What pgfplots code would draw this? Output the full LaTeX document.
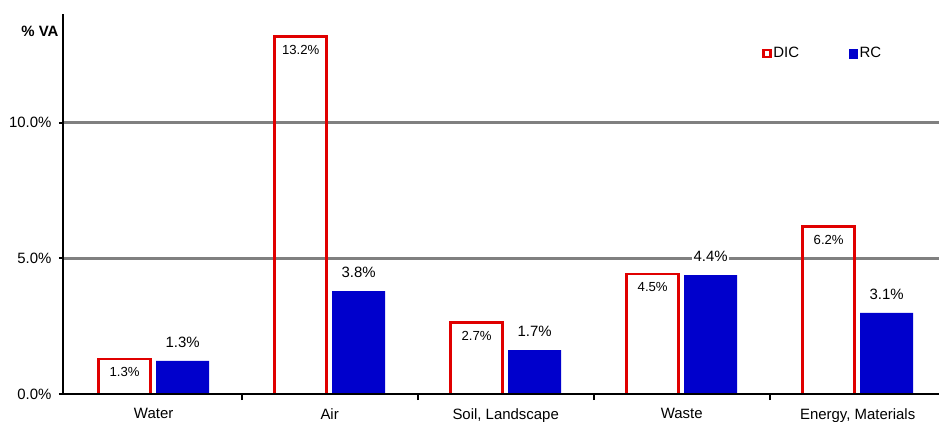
\documentclass[border=0pt]{standalone}
\usepackage{fontspec}
\setmainfont{Liberation Sans}
\usepackage{pgfplots}
\pgfplotsset{compat=1.18}
\definecolor{dicred}{RGB}{224,0,0}
\definecolor{rcblue}{RGB}{0,0,204}
\definecolor{gridgray}{RGB}{128,128,128}
\begin{document}
\begin{tikzpicture}[x=1bp,y=1bp]
\useasboundingbox (0,0) rectangle (939,421);
\begin{axis}[
  at={(63bp,27bp)}, anchor=south west,
  scale only axis, width=876bp, height=380bp,
  xmin=-0.515, xmax=4.462, ymin=0, ymax=14,
  axis lines*=left,
  axis line style={line width=1.6bp, black},
  ytick={0,5,10}, yticklabels={0.0\%,5.0\%,10.0\%},
  ymajorgrids,
  grid style={gridgray, line width=2.8bp},
  major grid style={gridgray, line width=2.8bp},
  xtick={0,1,2,3,4},
  xticklabels={Water, Air, {Soil, Landscape}, Waste, {Energy, Materials}},
  minor xtick={0.5,1.5,2.5,3.5},
  tick align=outside,
  major tick length=4bp, minor tick length=6bp,
  tick style={black, line width=2bp},
  minor tick style={black, line width=2bp},
  major x tick style={draw=none},
  ticklabel style={font=\fontsize{15}{17}\selectfont},
  xticklabel style={yshift=-7bp},
  yticklabel style={xshift=-4bp},
  ylabel={\textbf{\% VA}},
  every axis y label/.style={at={(rel axis cs:0,1)}, anchor=east, rotate=0, xshift=-1bp, yshift=-17bp, font=\fontsize{15}{17}\selectfont},
  legend columns=2,
  legend style={draw=none, fill=none, at={(0.798,0.896)}, anchor=west, inner sep=0pt,
    font=\fontsize{15}{17}\selectfont, cells={anchor=west},
    nodes={inner xsep=1.5bp},
    /tikz/every even column/.append style={column sep=48bp}},
]
\addplot[ybar, bar width=52bp, bar shift=-29bp, draw=dicred, line width=2.8bp, fill=none,
  point meta=explicit symbolic, nodes near coords,
  nodes near coords style={anchor=base, xshift=-29bp, yshift=-17.5bp, text=black, font=\fontsize{13.2}{15}\selectfont},
  legend image code/.code={\draw[dicred, line width=2.4bp] (0bp,-3.6bp) rectangle (7.2bp,3.6bp);}]
  coordinates {(0,1.29)[1.3\%] (1,13.17)[13.2\%] (2,2.63)[2.7\%] (3,4.42)[4.5\%] (4,6.17)[6.2\%]};
\addlegendentry{DIC}
\addplot[ybar, bar width=53bp, bar shift=29bp, fill=rcblue, draw=none,
  point meta=explicit symbolic, nodes near coords,
  nodes near coords style={anchor=base, xshift=29bp, yshift=13.6bp, text=black, fill=white, inner sep=1.5bp, font=\fontsize{15}{17}\selectfont},
  legend image code/.code={\fill[rcblue] (0bp,-5bp) rectangle (9.5bp,5bp);}]
  coordinates {(0,1.22)[1.3\%] (1,3.79)[3.8\%] (2,1.62)[1.7\%] (3,4.38)[4.4\%] (4,2.99)[3.1\%]};
\addlegendentry{RC}
\draw[black, line width=1.6bp] (rel axis cs:0,0) -- (rel axis cs:1,0);
\end{axis}
\end{tikzpicture}
\end{document}
